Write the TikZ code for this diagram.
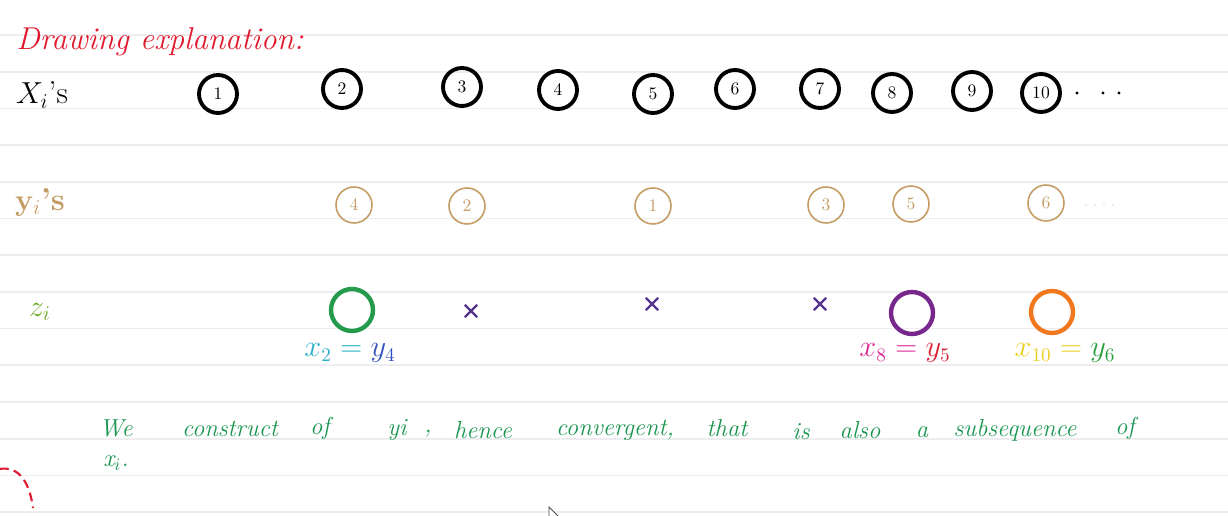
\documentclass[tikz,border=0pt]{standalone}
\usepackage{amsmath}
\usetikzlibrary{shapes.misc}

\definecolor{rulegray}{RGB}{237,237,240}
\definecolor{inkred}{RGB}{225,25,45}
\definecolor{inktan}{RGB}{196,156,100}
\definecolor{inkgreen}{RGB}{25,150,80}
\definecolor{zgreen}{RGB}{35,155,75}
\definecolor{zlime}{RGB}{110,170,40}
\definecolor{xpurple}{RGB}{85,50,140}
\definecolor{ringpurple}{RGB}{120,40,140}
\definecolor{ringorange}{RGB}{240,120,30}
\definecolor{eqcyan}{RGB}{40,175,200}
\definecolor{eqblue}{RGB}{50,80,190}
\definecolor{eqmagenta}{RGB}{220,40,150}
\definecolor{eqred}{RGB}{215,30,50}
\definecolor{eqyellow}{RGB}{235,205,30}
\definecolor{eqgreen}{RGB}{40,160,60}

\tikzset{
  xring/.style={circle, draw=black, line width=2.2pt, minimum size=0.76cm,
    inner sep=0pt, font=\fontsize{10}{10}\selectfont},
  yring/.style={circle, draw=inktan, line width=0.9pt, minimum size=0.72cm,
    inner sep=0pt, text=inktan, font=\fontsize{10}{10}\selectfont},
  zring/.style={circle, line width=2.5pt, minimum size=0.84cm, inner sep=0pt},
  crossmark/.style={cross out, draw=xpurple, line width=1.3pt,
    minimum size=0.2cm, inner sep=0pt},
  word/.style={text=inkgreen, font=\fontsize{14}{16}\selectfont\itshape},
  eqlabel/.style={font=\fontsize{16}{18}\selectfont}
}

\begin{document}
\begin{tikzpicture}[x=0.02cm, y=-0.02cm]

  \useasboundingbox (0,0) rectangle (1228,516);
  \fill[white] (0,0) rectangle (1228,516);

  % ruled paper
  \foreach \k in {0,...,13}
    \draw[rulegray, line width=1pt] (0,35+36.7*\k) -- (1228,35+36.7*\k);

  % heading and row names
  \node[inkred, font=\fontsize{18}{20}\selectfont\itshape] (title) at (160,42) {Drawing explanation:};
  \node[font=\fontsize{18}{20}\selectfont] (xlbl) at (42,95) {$X_i$'s};
  \node[inktan, font=\fontsize{18}{20}\selectfont\bfseries] (ylbl) at (40,202) {$\mathbf{y}_i$'s};
  \node[zlime, font=\fontsize{18}{20}\selectfont] (zlbl) at (40,312) {$z_i$};

  % x row
  \node[xring] (x1) at (218,94) {1};
  \node[xring] (x2) at (342,89) {2};
  \node[xring] (x3) at (462,87) {3};
  \node[xring] (x4) at (558,90) {4};
  \node[xring] (x5) at (653,94) {5};
  \node[xring] (x6) at (735,89) {6};
  \node[xring] (x7) at (820,89) {7};
  \node[xring] (x8) at (892,93) {8};
  \node[xring] (x9) at (972,91) {9};
  \node[xring] (x10) at (1041,93) {10};
  \foreach \px in {1077,1103,1119}
    \fill (\px,93) circle (1.6);

  % y row
  \node[yring] (y4) at (354,205) {4};
  \node[yring] (y2) at (467,206) {2};
  \node[yring] (y1) at (653,206) {1};
  \node[yring] (y3) at (826,205) {3};
  \node[yring] (y5) at (911,204) {5};
  \node[yring] (y6) at (1046,203) {6};
  \foreach \px in {1086,1095,1104,1113}
    \fill[inktan!40] (\px,205) circle (0.9);

  % z row
  \node[zring, draw=zgreen] (z2) at (352,310) {};
  \node[crossmark] (z3) at (471,311) {};
  \node[crossmark] (z5) at (652,304) {};
  \node[crossmark] (z7) at (820,304) {};
  \node[zring, draw=ringpurple] (z8) at (912,313) {};
  \node[zring, draw=ringorange] (z10) at (1052,312) {};

  \node[eqlabel] (eq2) at (350,353)
    {$\color{eqcyan} x_2 = \color{eqblue} y_4$};
  \node[eqlabel] (eq8) at (905,353)
    {$\color{eqmagenta} x_8 = \color{eqred} y_5$};
  \node[eqlabel] (eq10) at (1065,353)
    {$\color{eqyellow} x_{10} = \color{eqgreen} y_6$};

  % sentence under the rows
  \node[word] (w1) at (116,428) {We};
  \node[word] (w2) at (230,429) {construct};
  \node[word] (w3) at (320,428) {of};
  \node[word] (w4) at (397,430) {yi};
  \node[word] (w5) at (428,434) {,};
  \node[word] (w6) at (483,430) {hence};
  \node[word] (w7) at (615,430) {convergent,};
  \node[word] (w8) at (727,428) {that};
  \node[word] (w9) at (801,432) {is};
  \node[word] (w10) at (860,430) {also};
  \node[word] (w11) at (922,432) {a};
  \node[word] (w12) at (1015,430) {subsequence};
  \node[word] (w13) at (1125,428) {of};
  \node[word] (w14) at (116,463) {x$_i$.};

  % stray marks
  \draw[inkred, line width=1.2pt, dash pattern=on 5pt off 3pt]
    (0,469) .. controls (16,466) and (29,478) .. (33,508);
  \draw[black!70, line width=0.5pt, fill=white]
    (549,507) -- (560,518) -- (554,518) -- (549,523) -- cycle;

\end{tikzpicture}
\end{document}
